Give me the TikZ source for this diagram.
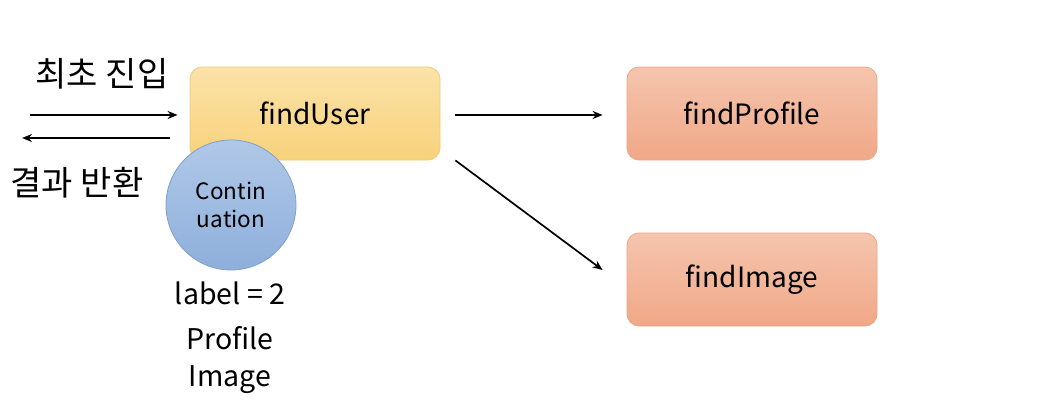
\documentclass[tikz,border=0pt]{standalone}
\usepackage{fontspec}
\setmainfont{Noto Sans CJK KR}
\usepackage{tikz}
\usetikzlibrary{arrows.meta,positioning}

\definecolor{userTop}{HTML}{FBE2A8}
\definecolor{userBot}{HTML}{F7D27B}
\definecolor{userLine}{HTML}{F0CD7C}
\definecolor{findTop}{HTML}{F5C5AE}
\definecolor{findBot}{HTML}{F0A887}
\definecolor{findLine}{HTML}{EAA68A}
\definecolor{contTop}{HTML}{B0C8E8}
\definecolor{contBot}{HTML}{8EAFDB}
\definecolor{contLine}{HTML}{7FA0CB}

\tikzset{
  funcbox/.style={rounded corners=12pt, minimum width=250pt, minimum height=93pt,
    font=\fontsize{28}{32}\selectfont, line width=0.8pt},
  userbox/.style={funcbox, draw=userLine, top color=userTop, bottom color=userBot},
  callbox/.style={funcbox, draw=findLine, top color=findTop, bottom color=findBot},
  contcircle/.style={circle, minimum size=130pt, inner sep=0pt, align=center,
    draw=contLine, line width=0.8pt, top color=contTop, bottom color=contBot,
    font=\fontsize{22.5}{28}\selectfont},
  flow/.style={-{Stealth[length=10pt,width=8pt]}, line width=1.7pt},
  caption/.style={font=\fontsize{34}{38}\selectfont},
  memo/.style={font=\fontsize{28.5}{32}\selectfont}
}

\begin{document}
\begin{tikzpicture}[x=1pt,y=-1pt]
  \fill[white] (0,0) rectangle (1061,410);
  \useasboundingbox (0,0) rectangle (1061,410);
  % functions
  \node[userbox] (findUser) at (315,113.5) {findUser};
  \node[callbox] (findProfile) at (752,113.5) {findProfile};
  \node[callbox] (findImage) at (752,279.5) {findImage};
  \node[contcircle] (cont) at (231,205) {Contin\\uation};
  % saved state
  \node[memo] (label) at (230,293) {label = 2};
  \node[memo] (profile) at (230,338) {Profile};
  \node[memo] (image) at (230,380) {Image};
  % entry and return
  \coordinate (entryStart) at (30,115);
  \coordinate (returnEnd) at (22,138);
  \node[caption] (entry) at (102,74) {최초 진입};
  \node[caption] (return) at (77,183) {결과 반환};
  \draw[flow] (entryStart) -- ([xshift=-12pt,yshift=-1.5pt]findUser.west);
  \draw[flow] ([xshift=-20pt,yshift=-24.5pt]findUser.west) -- (returnEnd);
  % calls
  \draw[flow] ([xshift=15pt,yshift=-1.5pt]findUser.east) -- ([xshift=-24pt,yshift=-1.5pt]findProfile.west);
  \draw[flow] ([xshift=15pt]findUser.south east) -- ([xshift=-24pt,yshift=9.5pt]findImage.west);
\end{tikzpicture}
\end{document}
